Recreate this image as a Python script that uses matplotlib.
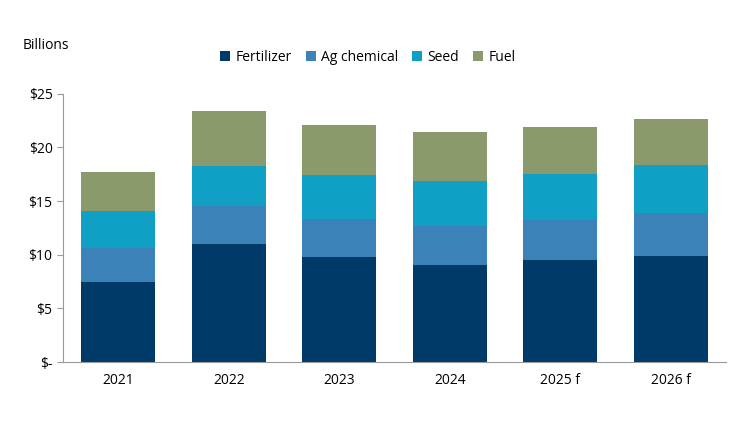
import matplotlib
matplotlib.use("Agg")
import matplotlib.pyplot as plt
import numpy as np

years = ["2021", "2022", "2023", "2024", "2025 f", "2026 f"]
fertilizer = [7.46, 11.0, 9.8, 9.05, 9.5, 9.9]
ag_chemical = [3.17, 3.55, 3.54, 3.64, 3.75, 4.0]
seed = [3.46, 3.73, 4.1, 4.19, 4.29, 4.5]
fuel = [3.63, 5.12, 4.66, 4.58, 4.36, 4.2]
tick_vals = [0, 5, 10, 15, 20, 25]
tick_labels = ["$-", "$5", "$10", "$15", "$20", "$25"]

plt.rcParams['font.family'] = ['Open Sans', 'DejaVu Sans']
fig = plt.figure(figsize=(7.5, 4.22), dpi=100)
ax = fig.add_axes([0.084, 0.142, 0.884, 0.636])
x = np.arange(len(years))
series = [("Fertilizer", fertilizer, "#003a68"), ("Ag chemical", ag_chemical, "#3b82b8"),
          ("Seed", seed, "#10a0c6"), ("Fuel", fuel, "#8a9a6c")]
bottom = np.zeros(len(years))
for name, vals, c in series:
    ax.bar(x, vals, 0.67, bottom=bottom, color=c, label=name)
    bottom += np.array(vals)
ax.set_ylim(0, 25)
ax.set_xlim(-0.5, len(years) - 0.5)
ax.set_yticks(tick_vals)
ax.set_yticklabels(tick_labels, fontsize=10)
ax.set_xticks(x)
ax.set_xticklabels(years, fontsize=10)
ax.tick_params(axis='x', length=0, pad=8)
ax.tick_params(axis='y', length=4, color='#999999')
for s in ["top", "right"]:
    ax.spines[s].set_visible(False)
ax.spines["left"].set_color("#999999")
ax.spines["bottom"].set_color("#999999")
fig.text(0.03, 0.885, "Billions", fontsize=10)
ax.legend(loc="lower center", bbox_to_anchor=(0.46, 1.06), ncol=4, frameon=False,
          fontsize=10, handlelength=0.7, handleheight=0.7, columnspacing=1.0, handletextpad=0.4)
fig.savefig("out.png")
